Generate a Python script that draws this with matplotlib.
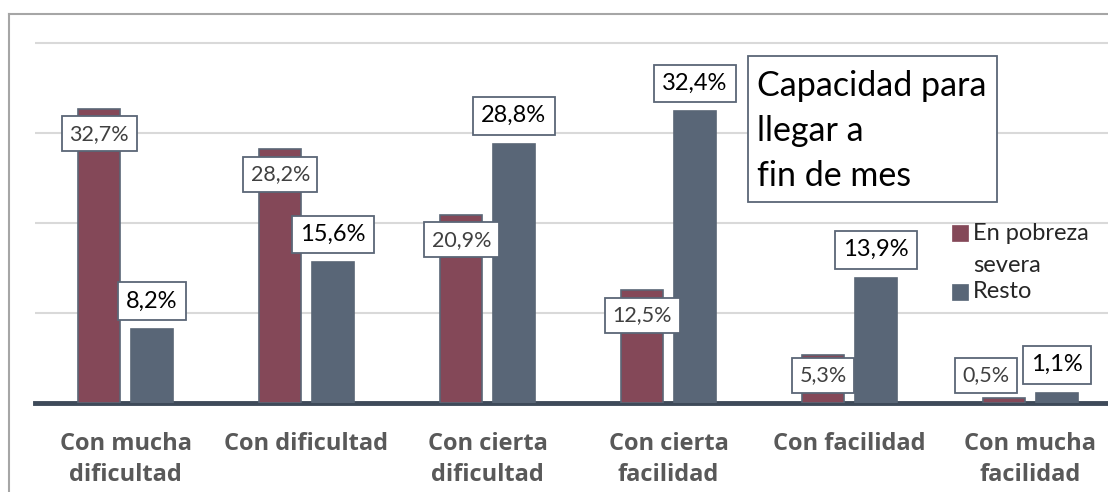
import matplotlib.pyplot as plt
from matplotlib.patches import Rectangle
from matplotlib.lines import Line2D
import numpy as np

categories = ["Con mucha\ndificultad", "Con dificultad", "Con cierta\ndificultad",
              "Con cierta\nfacilidad", "Con facilidad", "Con mucha\nfacilidad"]
pobreza = [32.7, 28.2, 20.9, 12.5, 5.3, 0.5]
resto = [8.2, 15.6, 28.8, 32.4, 13.9, 1.1]

red = "#844858"
blue = "#596677"
edge = "#5a6676"

W, H = 1108, 492
fig = plt.figure(figsize=(W / 100, H / 100), dpi=100)
ax = fig.add_axes([35 / W, 1 - 402.5 / H, 1086 / W, 382.5 / H])

x = np.arange(len(categories))
bw = 0.232
b1 = ax.bar(x - 0.145, pobreza, bw, color=red, edgecolor=edge, linewidth=1.2, zorder=3)
b2 = ax.bar(x + 0.145, resto, bw, color=blue, edgecolor=edge, linewidth=1.2, zorder=3)

box = dict(boxstyle="square,pad=0.35", fc="white", ec=edge, lw=1.3)
# red labels sit just inside the bar top, but never lower than near the baseline
# (the last one is nudged left so it does not run into its neighbour)
dx = [0, 0, 0, 0, 0, -13]
for rect, v, d in zip(b1, pobreza, dx):
    ly = max(v - 2.8, 3.0)
    ax.annotate(f"{v:.1f}%".replace(".", ","), (rect.get_x() + rect.get_width() / 2, ly),
                xytext=(d, 0), textcoords="offset points", ha="center", va="center",
                fontsize=15.5, family="Lato", color="#404040", bbox=box, zorder=5)
for rect, v in zip(b2, resto):
    ax.annotate(f"{v:.1f}%".replace(".", ","), (rect.get_x() + rect.get_width() / 2, v),
                xytext=(0, 20), textcoords="offset points", ha="center", va="center",
                fontsize=17, family="Lato", color="black", bbox=box, zorder=5)

ax.set_xlim(-0.5, 5.5)
ax.set_ylim(0, 382.5 / 8.99)
ax.set_yticks([10, 20, 30, 40])
ax.yaxis.grid(True, color="#d9d9d9", linewidth=1.5, zorder=0)
ax.tick_params(axis="y", left=False, labelleft=False)
ax.set_xticks(x)
ax.set_xticklabels(categories, fontsize=17, family="Open Sans", fontweight="bold",
                   color="#595959", linespacing=1.4)
ax.tick_params(axis="x", length=0, pad=21)
for s in ["top", "right", "left"]:
    ax.spines[s].set_visible(False)
ax.spines["bottom"].set_color("#3e4a59")
ax.spines["bottom"].set_linewidth(3.5)

# outer frame (left and top only visible)
fig.add_artist(Line2D([9 / W, 9 / W], [0, 1 - 14 / H], color="#a6a6a6", lw=1.5))
fig.add_artist(Line2D([9 / W, 1], [1 - 14 / H, 1 - 14 / H], color="#a6a6a6", lw=1.5))

# title box
fig.add_artist(Rectangle((748 / W, 1 - 202 / H), 249 / W, 146 / H, transform=fig.transFigure,
                         fc="white", ec=edge, lw=1.3, zorder=4))
fig.text(757 / W, 1 - 70 / H, "Capacidad para\nllegar a\nfin de mes", fontsize=24.5,
         family="Lato", color="black", va="top", ha="left", linespacing=1.5, zorder=5)

# legend
for yc, col in [(233, red), (292, blue)]:
    fig.add_artist(Rectangle((952 / W, 1 - (yc + 8) / H), 16 / W, 16 / H,
                             transform=fig.transFigure, fc=col, ec=col, lw=0.5))
fig.text(973 / W, 1 - 233 / H, "En pobreza", fontsize=17, family="Lato", color="#262626", va="center")
fig.text(973 / W, 1 - 265 / H, "severa", fontsize=17, family="Lato", color="#262626", va="center")
fig.text(973 / W, 1 - 292 / H, "Resto", fontsize=17, family="Lato", color="#262626", va="center")

fig.savefig("out.png", dpi=100)
